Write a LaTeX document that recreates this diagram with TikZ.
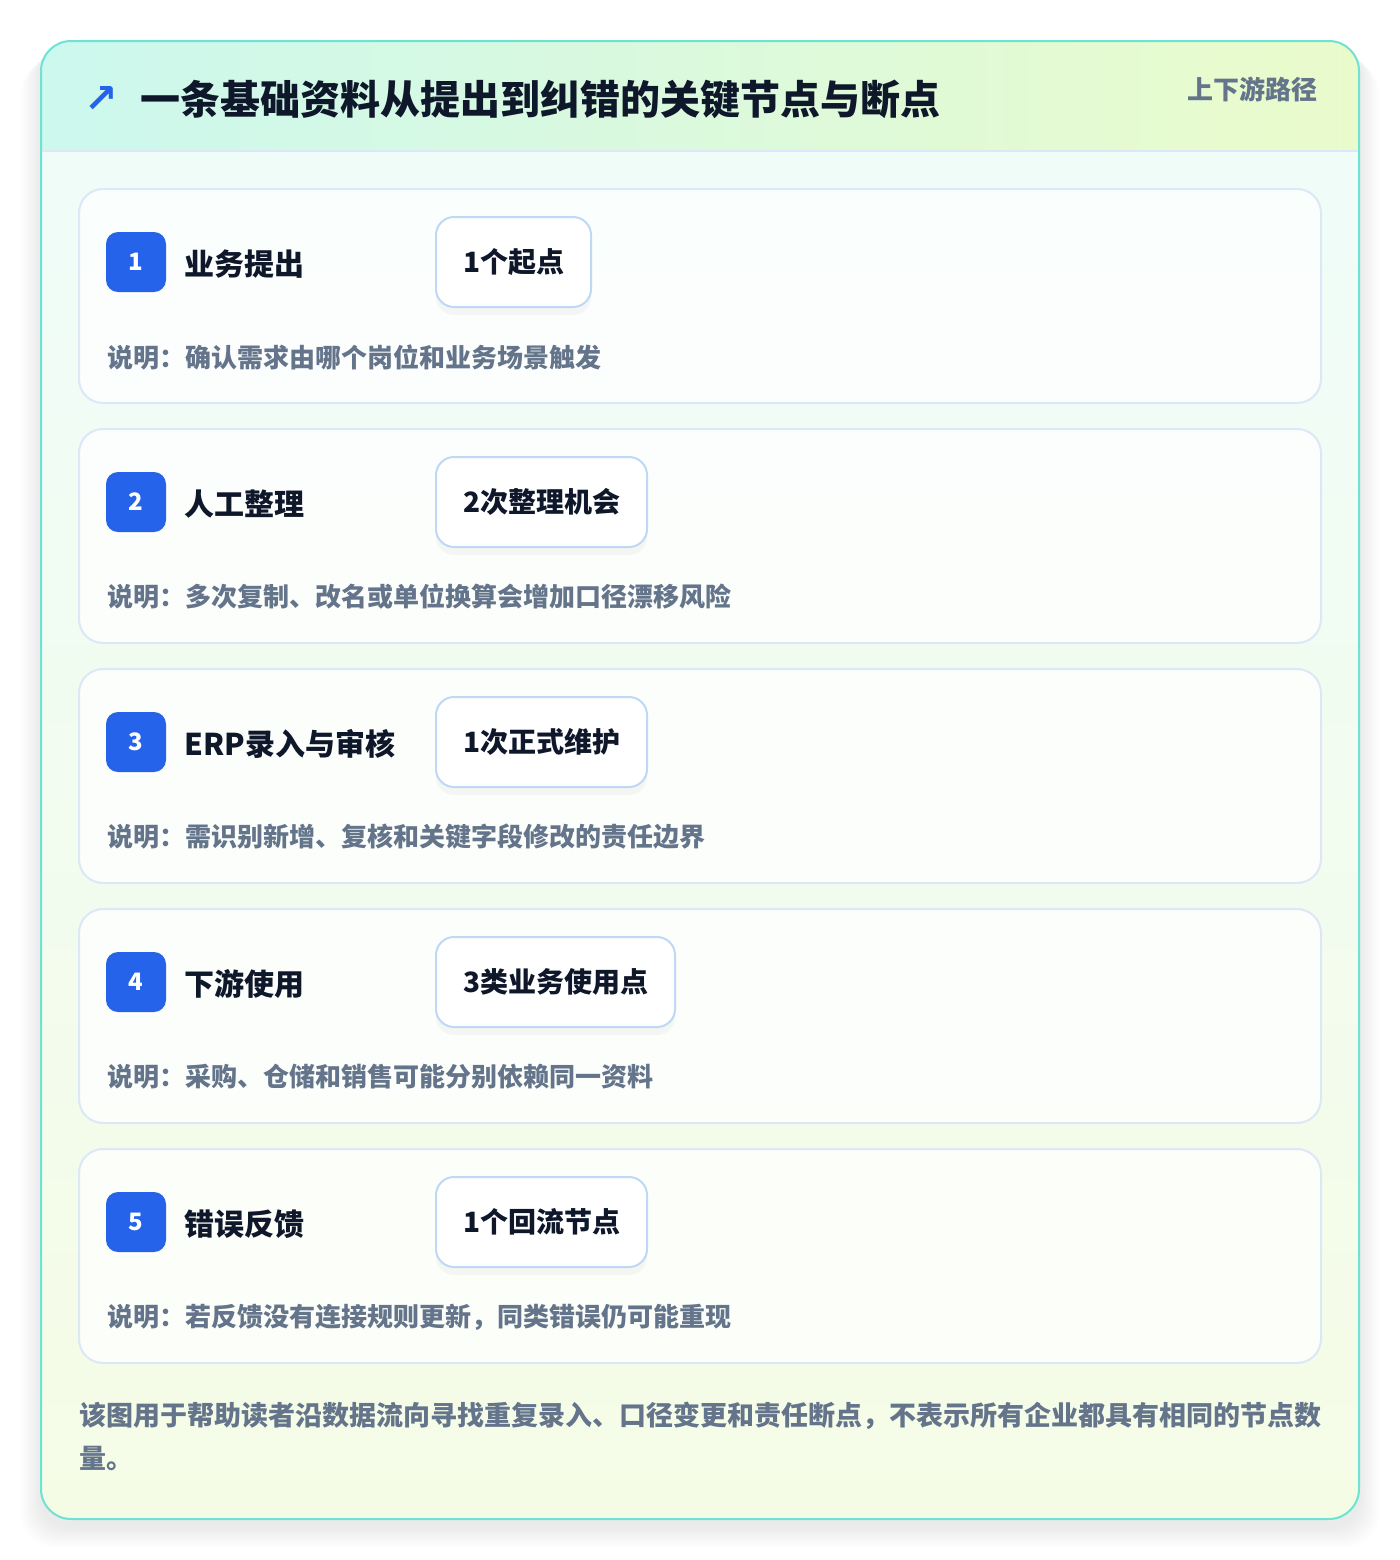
\documentclass[tikz,border=0pt]{standalone}
\usepackage{fontspec}
\setmainfont{Noto Sans CJK SC}
\newfontfamily\symfont{DejaVu Sans}
\usetikzlibrary{shadows}
\usetikzlibrary{positioning}

\definecolor{tealline}{HTML}{6EE3D3}
\definecolor{hdleft}{HTML}{CCF8EE}
\definecolor{hdright}{HTML}{EAFBCB}
\definecolor{bodytop}{HTML}{EFFCF8}
\definecolor{bodybot}{HTML}{F5FCE6}
\definecolor{hairline}{HTML}{DCE8F8}
\definecolor{cardline}{HTML}{DCE8F8}
\definecolor{pillline}{HTML}{BFD8F6}
\definecolor{stepblue}{HTML}{2563EB}
\definecolor{ink}{HTML}{0F172A}
\definecolor{muted}{HTML}{64748B}

\tikzset{
  badge/.style={fill=stepblue, text=white, rounded corners=6pt, minimum size=30pt, inner sep=0pt, font=\fontsize{12}{14}\selectfont\bfseries},
  steptitle/.style={anchor=west, inner sep=0pt, text=ink, font=\fontsize{15}{18}\selectfont\bfseries},
  pillbox/.style={anchor=west, draw=pillline, line width=1pt, fill=white, rounded corners=9pt, minimum height=45pt, inner xsep=13.5pt, text=ink, font=\fontsize{14}{17}\selectfont\bfseries, drop shadow={opacity=0.06, shadow xshift=0pt, shadow yshift=-4pt}},
  notetext/.style={anchor=west, inner sep=0pt, text=muted, font=\fontsize{13}{16}\selectfont\bfseries},
}

\begin{document}
\begin{tikzpicture}[x=0.5pt, y=-0.5pt]

  \def\dy{240};
  \def\ch{214};

  \useasboundingbox[fill=white] (0,0) rectangle (1400,1560);

  % soft shadow of the panel
  \foreach \k in {1,...,10} {
    \fill[black, opacity=0.009, rounded corners=16pt] (41-2*\k,41+2*\k) rectangle (1359+2*\k,1519+8+2*\k);
  }

  \begin{scope}
    \clip[rounded corners=15pt] (41,41) rectangle (1359,1519);
    \shade[left color=hdleft, right color=hdright] (41,41) rectangle (1359,151);
    \shade[top color=bodytop, bottom color=bodybot] (41,151) rectangle (1359,1519);
    \draw[hairline, line width=1pt] (41,151) -- (1359,151);
  \end{scope}
  \draw[tealline, line width=1pt, rounded corners=15pt] (41,41) rectangle (1359,1519);

  % header
  \node[anchor=west, inner sep=0pt, text=stepblue, font=\symfont\bfseries\fontsize{20}{24}\selectfont] (icon) at (84,99) {↗};
  \node[anchor=west, inner sep=0pt, text=ink, font=\fontsize{20}{24}\selectfont\bfseries] (title) at (140,99) {一条基础资料从提出到纠错的关键节点与断点};
  \node[anchor=east, inner sep=0pt, text=muted, font=\fontsize{13}{16}\selectfont\bfseries] (tag) at (1318,89) {上下游路径};

  % steps
  \foreach \i/\step/\pill/\note in {1/业务提出/1个起点/确认需求由哪个岗位和业务场景触发,
      2/人工整理/2次整理机会/多次复制、改名或单位换算会增加口径漂移风险,
      3/ERP录入与审核/1次正式维护/需识别新增、复核和关键字段修改的责任边界,
      4/下游使用/3类业务使用点/采购、仓储和销售可能分别依赖同一资料,
      5/错误反馈/1个回流节点/若反馈没有连接规则更新，同类错误仍可能重现} {
    \pgfmathsetmacro\y{189+(\i-1)*\dy}
    \draw[cardline, line width=1pt, fill=white, fill opacity=0.75, rounded corners=12pt] (79,\y) rectangle (1321,\y+\ch);
    \node[badge] (b\i) at (136,\y+73) {\i};
    \node[steptitle] (t\i) at (184,\y+75) {\step};
    \node[pillbox] (p\i) at (435,\y+73) {\pill};
    \node[notetext] (n\i) at (107,\y+168) {说明：\note};
  }

  % footnote
  \node[anchor=base west, inner sep=0pt, align=left, text=muted, font=\fontsize{13.5}{21.5}\selectfont\bfseries] (foot) at (79,1468)
    {该图用于帮助读者沿数据流向寻找重复录入、口径变更和责任断点，不表示所有企业都具有相同的节点数\\量。};

\end{tikzpicture}
\end{document}
